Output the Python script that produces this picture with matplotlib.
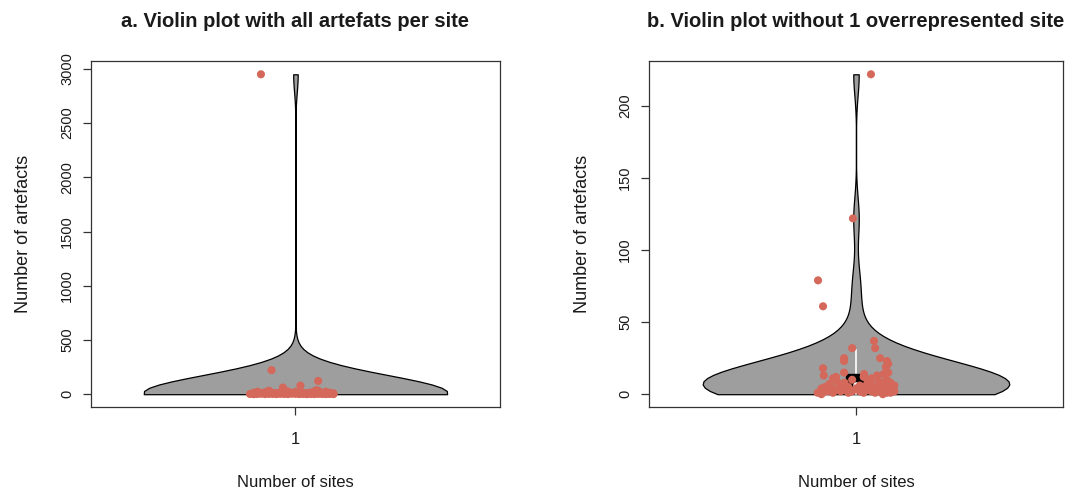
import numpy as np
import matplotlib
matplotlib.use('Agg')
import matplotlib.pyplot as plt

plt.rcParams['font.family'] = ['Liberation Sans', 'DejaVu Sans']

# artefacts per site (without the one overrepresented site), sorted
counts = [0, 0, 1, 1, 1, 1, 1, 1, 1, 2, 2, 2, 2, 2, 2, 2, 2,
          3, 3, 3, 3, 3, 4, 4, 4, 4, 5, 5, 5, 5, 6, 6, 6, 6,
          7, 7, 7, 8, 8, 8, 9, 9, 10, 10, 11, 11, 12, 12, 13, 13, 14,
          14, 15, 15, 18, 19, 21, 23, 23, 25, 25, 32, 32, 37, 61, 79, 122, 222]
big_site = 2950

# jitter offsets (panel b, same order as counts)
jit_b = [-0.09, 0.07, -0.06, 0.02, 0.09, -0.02, 0.05, -0.10, 0.08,
         -0.04, 0.01, 0.06, -0.08, 0.10, -0.01, 0.04, -0.07,
         0.03, -0.05, 0.09, -0.03, 0.07, -0.09, 0.00, 0.05, -0.06,
         0.08, -0.02, 0.02, -0.08, 0.06, -0.04, 0.10, 0.01,
         -0.07, 0.04, 0.07, -0.03, 0.03, 0.09, -0.05, 0.06, -0.01, 0.08,
         -0.06, 0.04, -0.052, 0.02, -0.084, 0.055, 0.021,
         0.072, -0.031, 0.084, -0.086, 0.078, 0.084, 0.081, -0.031,
         0.063, -0.031, -0.010, 0.050, 0.047, -0.086, -0.099, -0.008, 0.039]
# panel a (counts order, then the big site)
jit_a = [0.03, -0.11, 0.08, -0.05, 0.01, 0.10, -0.08, 0.05, -0.02,
         0.07, -0.10, 0.02, -0.06, 0.09, -0.03, 0.04, -0.12,
         0.06, -0.07, 0.00, 0.10, -0.04, 0.08, -0.09, 0.03, -0.01,
         0.05, -0.11, 0.07, -0.05, 0.02, -0.08, 0.09, -0.02,
         0.04, -0.10, 0.06, -0.03, 0.01, 0.08, -0.07, 0.10, -0.05, 0.03,
         -0.09, 0.05, -0.01, 0.07, -0.06, 0.02, -0.11,
         0.09, -0.04, 0.04, -0.08, 0.06, 0.00, -0.10, 0.08,
         -0.02, 0.05, 0.06, -0.07, 0.055, -0.033, 0.013, 0.06, -0.063, -0.091]

VIO_COL = '#9e9e9e'
PT_COL = '#d4685b'
TXT = '#1a1a1a'


def violin(ax, data, jit, yticks):
    data = np.asarray(data, float)
    n = len(data)
    h = data.std(ddof=1) * (4 / (3 * n)) ** 0.2
    grid = np.linspace(data.min(), data.max(), 100)
    dens = np.exp(-0.5 * ((grid[:, None] - data[None, :]) / h) ** 2).sum(1)
    half = dens / dens.max() * 0.4
    ax.fill_betweenx(grid, 1 - half, 1 + half, facecolor=VIO_COL,
                     edgecolor='black', lw=0.9, zorder=2)
    q1, med, q3 = np.percentile(data, [25, 50, 75])
    upper = min(q3 + 1.5 * (q3 - q1), data.max())
    lower = max(q1 - 1.5 * (q3 - q1), data.min())
    ax.plot([1, 1], [lower, upper], color='white', lw=1.2, zorder=3)
    ax.add_patch(plt.Rectangle((1 - 0.025, q1), 0.05, q3 - q1,
                               facecolor='black', edgecolor='black', zorder=3))
    ax.scatter([1], [med], color='white', s=14, zorder=3)
    ax.scatter(1 + np.asarray(jit), data, color=PT_COL, s=34,
               edgecolors='none', zorder=4)
    rng = data.max() - data.min()
    ax.set_ylim(data.min() - 0.04 * rng, data.max() + 0.04 * rng)
    ax.set_xlim(0.46, 1.54)
    ax.set_xticks([1])
    ax.set_xticklabels(['1'])
    ax.set_yticks(yticks)
    ax.set_yticklabels([str(t) for t in yticks], rotation=90, va='center')
    ax.tick_params(axis='both', length=6, width=0.9, color='#333333',
                   labelcolor=TXT)
    ax.tick_params(axis='x', pad=12, labelsize=12)
    ax.tick_params(axis='y', pad=6, labelsize=10.5)
    for s in ax.spines.values():
        s.set_color('#333333')
        s.set_linewidth(0.9)
    ax.set_xlabel('Number of sites', fontsize=12, labelpad=20, color=TXT)
    ax.set_ylabel('Number of artefacts', fontsize=13, labelpad=20, color=TXT)


fig = plt.figure(figsize=(10.72, 4.88), dpi=100)
ax1 = fig.add_axes([0.0846, 0.166, 0.382, 0.708])
ax2 = fig.add_axes([0.6054, 0.166, 0.3862, 0.708])

violin(ax1, counts + [big_site], jit_a, list(range(0, 3001, 500)))
violin(ax2, counts, jit_b, list(range(0, 201, 50)))

ax1.set_title('a. Violin plot with all artefats per site', fontsize=14.5,
              fontweight='bold', pad=25, color=TXT)
ax2.set_title('b. Violin plot without 1 overrepresented site', fontsize=14.5,
              fontweight='bold', pad=25, color=TXT)

fig.savefig('out.png', dpi=100)
